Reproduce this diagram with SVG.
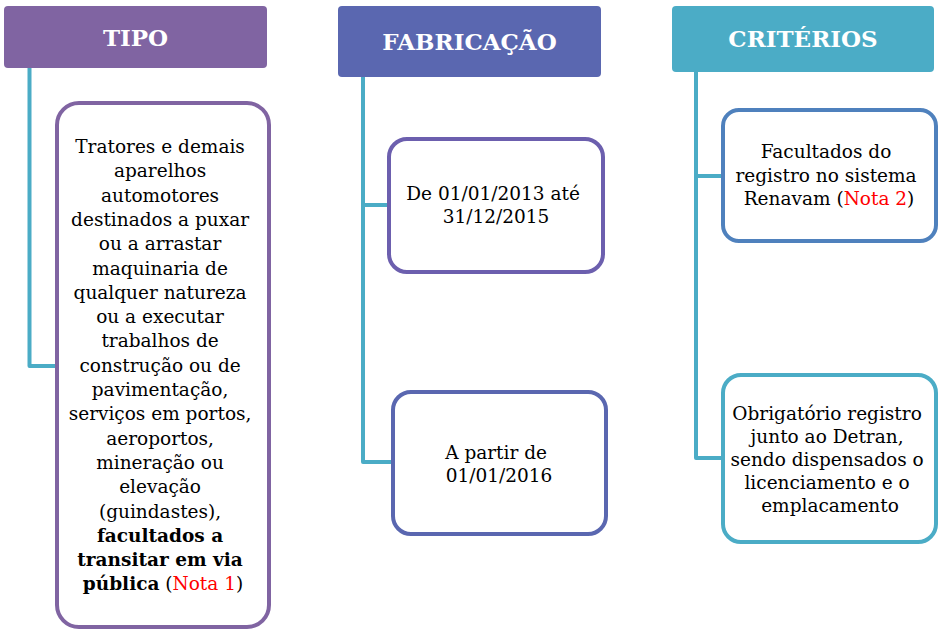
<svg xmlns="http://www.w3.org/2000/svg" width="943" height="633" viewBox="0 0 943 633">
<style>
.hdr{font-family:"DejaVu Serif","Liberation Serif",serif;font-weight:bold;font-size:23px;fill:#ffffff;text-anchor:middle}
.txt{font-family:"DejaVu Serif","Liberation Serif",serif;font-size:18.5px;fill:#000000;text-anchor:middle}
.b{font-weight:bold}
.red{fill:#ff0000}
.box{fill:#ffffff;stroke-width:4}
.conn{fill:none;stroke:#4BACC6;stroke-width:4;stroke-linejoin:round}
</style>
<rect width="943" height="633" fill="#ffffff"/>
<g id="connectors">
<path class="conn" d="M29.5,68 V366 H57"/>
<path class="conn" d="M363,77 V462 H393 M363,205 H390"/>
<path class="conn" d="M696,72 V458 H723 M696,176 H723"/>
</g>
<g id="tipo">
<rect x="4" y="6" width="263" height="62" rx="4" fill="#8064A2"/>
<text class="hdr" x="135.5" y="46">TIPO</text>
</g>
<g id="fabricacao">
<rect x="338" y="6" width="263" height="71" rx="4" fill="#5A67B0"/>
<text class="hdr" x="469.5" y="50">FABRICAÇÃO</text>
</g>
<g id="criterios">
<rect x="672" y="6" width="262" height="66" rx="4" fill="#4BACC6"/>
<text class="hdr" x="803" y="47">CRITÉRIOS</text>
</g>
<g id="tipo-box">
<rect class="box" x="57" y="103" width="212" height="524" rx="22" stroke="#8064A2"/>
<text class="txt" x="163" y="153">
<tspan x="163" dy="0">Tratores e demais</tspan>
<tspan x="163" dy="24.3">aparelhos</tspan>
<tspan x="163" dy="24.3">automotores</tspan>
<tspan x="163" dy="24.3">destinados a puxar</tspan>
<tspan x="163" dy="24.3">ou a arrastar</tspan>
<tspan x="163" dy="24.3">maquinaria de</tspan>
<tspan x="163" dy="24.3">qualquer natureza</tspan>
<tspan x="163" dy="24.3">ou a executar</tspan>
<tspan x="163" dy="24.3">trabalhos de</tspan>
<tspan x="163" dy="24.3">construção ou de</tspan>
<tspan x="163" dy="24.3">pavimentação,</tspan>
<tspan x="163" dy="24.3">serviços em portos,</tspan>
<tspan x="163" dy="24.3">aeroportos,</tspan>
<tspan x="163" dy="24.3">mineração ou</tspan>
<tspan x="163" dy="24.3">elevação</tspan>
<tspan x="163" dy="24.3">(guindastes),</tspan>
<tspan x="163" dy="24.3" class="b">facultados a</tspan>
<tspan x="163" dy="24.3" class="b">transitar em via</tspan>
<tspan x="163" dy="24.3"><tspan class="b">pública</tspan> (<tspan class="red">Nota 1</tspan>)</tspan>
</text>
</g>
<g id="fab-box1">
<rect class="box" x="389" y="139" width="214" height="133" rx="18" stroke="#6C5FAE"/>
<text class="txt" x="496" y="200">
<tspan x="496" dy="0">De 01/01/2013 até</tspan>
<tspan x="496" dy="22.5">31/12/2015</tspan>
</text>
</g>
<g id="fab-box2">
<rect class="box" x="393" y="392" width="213" height="142" rx="18" stroke="#5A67B0"/>
<text class="txt" x="499" y="459">
<tspan x="499" dy="0">A partir de</tspan>
<tspan x="499" dy="22.5">01/01/2016</tspan>
</text>
</g>
<g id="crit-box1">
<rect class="box" x="723" y="110" width="213" height="131" rx="16" stroke="#4F81BD"/>
<text class="txt" x="829" y="158">
<tspan x="829" dy="0">Facultados do</tspan>
<tspan x="829" dy="23.5">registro no sistema</tspan>
<tspan x="829" dy="23.5">Renavam (<tspan class="red">Nota 2</tspan>)</tspan>
</text>
</g>
<g id="crit-box2">
<rect class="box" x="723" y="375" width="213" height="167" rx="18" stroke="#4BACC6"/>
<text class="txt" x="830" y="420">
<tspan x="830" dy="0">Obrigatório registro</tspan>
<tspan x="830" dy="23">junto ao Detran,</tspan>
<tspan x="830" dy="23">sendo dispensados o</tspan>
<tspan x="830" dy="23">licenciamento e o</tspan>
<tspan x="830" dy="23">emplacamento</tspan>
</text>
</g>
</svg>
